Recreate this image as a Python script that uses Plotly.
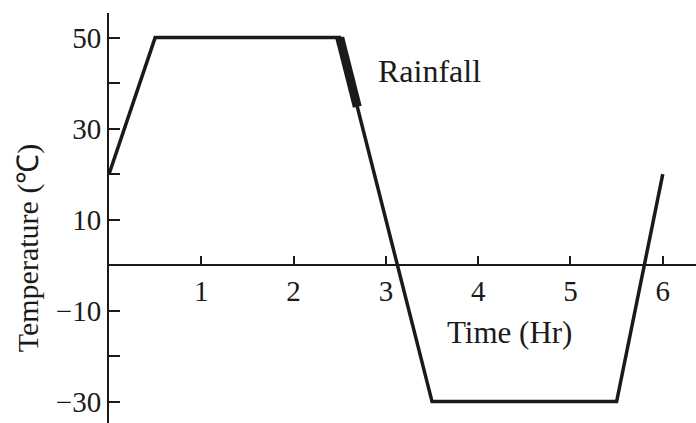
import plotly.graph_objects as go

# Temperature profile over time
time_hr = [0, 0.5, 2.5, 3.5, 5.5, 6]
temp_c = [20, 50, 50, -30, -30, 20]

# Rainfall period (thickened part of the cooling ramp)
rain_time = [2.5, 2.69]
rain_temp = [50, 34.8]

x_ticks = [1, 2, 3, 4, 5, 6]
y_ticks = [-30, -20, -10, 0, 10, 20, 30, 40, 50]
y_tick_text = ["\u221230", "", "\u221210", "", "10", "", "30", "", "50"]

x_range = [0, 6.36]
y_range = [-34.7, 55.4]

FONT = "Liberation Serif, Times New Roman, serif"
INK = "#1a1a1a"

fig = go.Figure()
fig.add_trace(go.Scatter(
    x=time_hr, y=temp_c, mode="lines",
    line=dict(color=INK, width=3.5), showlegend=False, cliponaxis=False,
))
fig.add_trace(go.Scatter(
    x=rain_time, y=rain_temp, mode="lines",
    line=dict(color=INK, width=9), showlegend=False, cliponaxis=False,
))

# x axis sits at temperature 0
x_axis_pos = (0 - y_range[0]) / (y_range[1] - y_range[0])

fig.update_layout(
    width=696, height=423,
    margin=dict(l=109, r=0, t=13, b=0),
    paper_bgcolor="white", plot_bgcolor="white",
    font=dict(family=FONT, color=INK),
    xaxis=dict(
        range=x_range, anchor="free", position=x_axis_pos,
        showline=True, linecolor=INK, linewidth=2,
        ticks="inside", ticklen=8, tickwidth=2, tickcolor=INK,
        tickvals=x_ticks, ticktext=[str(v) for v in x_ticks],
        tickfont=dict(size=29, family=FONT, color=INK),
        ticklabelstandoff=0,
        showgrid=False, zeroline=False,
    ),
    yaxis=dict(
        range=y_range,
        showline=True, linecolor=INK, linewidth=2,
        ticks="inside", ticklen=11, tickwidth=2, tickcolor=INK,
        tickvals=y_ticks, ticktext=y_tick_text,
        tickfont=dict(size=29, family=FONT, color=INK),
        showgrid=False, zeroline=False,
    ),
    annotations=[
        dict(text="Rainfall", x=3.47, y=42.6, xref="x", yref="y",
             showarrow=False, font=dict(size=32, family=FONT, color=INK)),
        dict(text="Time (Hr)", x=4.34, y=-14.9, xref="x", yref="y",
             showarrow=False, font=dict(size=31, family=FONT, color=INK)),
        dict(text="Temperature (\u2103)", x=0, xshift=-81, y=3.7,
             xref="paper", yref="y", xanchor="center", yanchor="middle",
             textangle=-90,
             showarrow=False, font=dict(size=30, family=FONT, color=INK)),
    ],
)

fig.write_html("out.html")
